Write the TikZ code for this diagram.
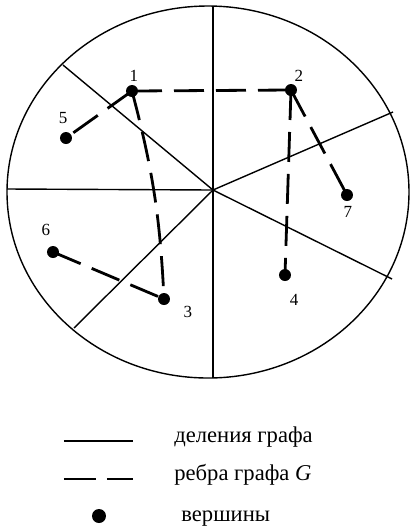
\documentclass[tikz,border=0pt]{standalone}
\usepackage{fontspec}
\setmainfont{Liberation Serif}
\tikzset{
  vertex/.style={circle,fill,inner sep=0pt,minimum size=6pt},
  gedge/.style={line width=1.4pt,dash pattern=on 15pt off 6pt},
  divline/.style={line width=0.7pt},
  num/.style={font=\fontsize{8.5}{10}\selectfont,inner sep=1pt},
  legtext/.style={anchor=west,inner sep=0pt,font=\fontsize{11.3}{13}\selectfont}
}
\begin{document}
\begin{tikzpicture}[x=0.5pt,y=-0.5pt]
    \useasboundingbox (0,0) rectangle (413,532);
    \coordinate (o) at (213,190);
    \draw[line width=0.7pt] (208,192) ellipse [x radius=201,y radius=186];
    \draw[divline] (o) -- (213,7); \draw[divline] (o) -- (213,378);
    \draw[divline] (o) -- (7,189); \draw[divline] (o) -- (63,65);
    \draw[divline] (o) -- (393,112); \draw[divline] (o) -- (392,279);
    \draw[divline] (o) -- (74,328);
    % vertices
    \node[vertex] (v1) at (132,91) {}; \node[num] (n1) at (134,76) {1};
    \node[vertex] (v2) at (291,90) {}; \node[num] (n2) at (299,76) {2};
    \node[vertex] (v3) at (164,299) {}; \node[num] (n3) at (188,312) {3};
    \node[vertex] (v4) at (285,275) {}; \node[num] (n4) at (294,300) {4};
    \node[vertex] (v5) at (66,138) {}; \node[num] (n5) at (63,118) {5};
    \node[vertex] (v6) at (53,252) {}; \node[num] (n6) at (46,230) {6};
    \node[vertex] (v7) at (347,195) {}; \node[num] (n7) at (348,212) {7};
    % edges of G
    \draw[gedge] (v1.center) -- (v2.center);
    \draw[gedge] (v1.center) -- (v5.center);
    \draw[gedge] (v1.center) to[bend left=6] (v3.center);
    \draw[gedge] (v2.center) -- (v4.center);
    \draw[gedge] (v2.center) -- (v7.center);
    \draw[gedge] (v6.center) -- (v3.center);
    % legend
    \coordinate (s1) at (64,441); \coordinate (s2) at (133,441);
    \draw[divline] (s1) -- (s2);
    \node[legtext] (t1) at (174,437) {деления графа};
    \coordinate (d1) at (64,479); \coordinate (d2) at (133,479);
    \draw[line width=1.2pt,dash pattern=on 16pt off 5.5pt] (d1) -- (d2);
    \node[legtext] (t2) at (174,475) {ребра графа \textit{G}};
    \node[vertex,minimum size=7pt] (lv) at (99,516) {};
    \node[legtext] (t3) at (181,519) {вершины};
\end{tikzpicture}
\end{document}
